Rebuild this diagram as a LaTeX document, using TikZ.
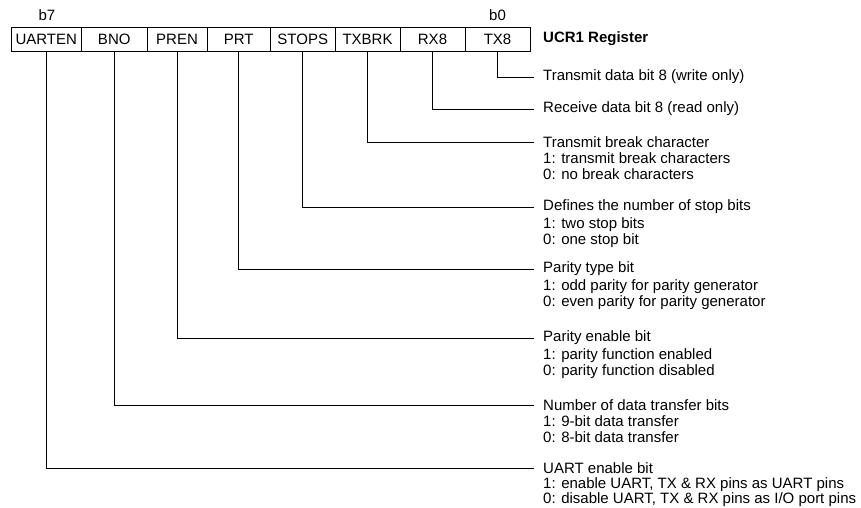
\documentclass[tikz,border=0pt]{standalone}
\usepackage{fontspec}
\setmainfont{Liberation Sans}
\begin{document}
\begin{tikzpicture}[x=1pt,y=-1pt,
  every node/.style={font=\fontsize{15}{15.8}\selectfont, text=black},
  reg/.style={draw, line width=0.8pt, minimum height=24pt, inner sep=0pt, outer sep=0pt},
  lead/.style={draw, line width=0.8pt},
  head/.style={anchor=west, inner xsep=9pt, inner ysep=0pt},
  detail/.style={anchor=base west, align=left, inner sep=0pt},
  bitlbl/.style={inner sep=0pt}]
\useasboundingbox (0,0) rectangle (861,507);
% register boxes
\node[reg, minimum width=70.5pt] (uarten) at (46.25,39) {UARTEN};
\node[reg, minimum width=65.5pt] (bno) at (114.25,39) {BNO};
\node[reg, minimum width=60pt] (pren) at (177,39) {PREN};
\node[reg, minimum width=63.5pt] (prt) at (238.75,39) {PRT};
\node[reg, minimum width=64.5pt] (stops) at (302.75,39) {STOPS};
\node[reg, minimum width=65pt] (txbrk) at (367.5,39) {TXBRK};
\node[reg, minimum width=65pt] (rxe) at (432.5,39) {RX8};
\node[reg, minimum width=65pt] (txe) at (497.5,39) {TX8};
\node[bitlbl] (b7) at (47,15) {b7};
\node[bitlbl] (b0) at (497.5,15) {b0};
\node[anchor=west, inner sep=0pt, font=\fontsize{15}{15.8}\selectfont\bfseries] (title) at (543,39) {UCR1 Register};
% descriptions
\node[head] (d0) at (534,77) {Transmit data bit 8 (write only)};
\node[head] (d1) at (534,109) {Receive data bit 8 (read only)};
\node[head] (d2) at (534,142) {Transmit break character};
\node[detail] (d2x) at (543,179) {1: transmit break characters\\0: no break characters};
\node[head] (d3) at (534,207) {Defines the number of stop bits};
\node[detail] (d3x) at (543,244) {1: two stop bits\\0: one stop bit};
\node[head] (d4) at (534,269) {Parity type bit};
\node[detail] (d4x) at (543,306) {1: odd parity for parity generator\\0: even parity for parity generator};
\node[head] (d5) at (534,338) {Parity enable bit};
\node[detail] (d5x) at (543,375) {1: parity function enabled\\0: parity function disabled};
\node[head] (d6) at (534,405) {Number of data transfer bits};
\node[detail] (d6x) at (543,442) {1: 9-bit data transfer\\0: 8-bit data transfer};
\node[head] (d7) at (534,468) {UART enable bit};
\node[detail, font=\fontsize{15}{15.3}\selectfont] (d7x) at (543,503.3) {1: enable UART, TX \& RX pins as UART pins\\0: disable UART, TX \& RX pins as I/O port pins};
% leaders
\draw[lead] (txe.south) |- (d0.west);
\draw[lead] (rxe.south) |- (d1.west);
\draw[lead] (txbrk.south) |- (d2.west);
\draw[lead] (stops.south) |- (d3.west);
\draw[lead] (prt.south) |- (d4.west);
\draw[lead] (pren.south) |- (d5.west);
\draw[lead] (bno.south) |- (d6.west);
\draw[lead] (uarten.south) |- (d7.west);
\end{tikzpicture}
\end{document}
